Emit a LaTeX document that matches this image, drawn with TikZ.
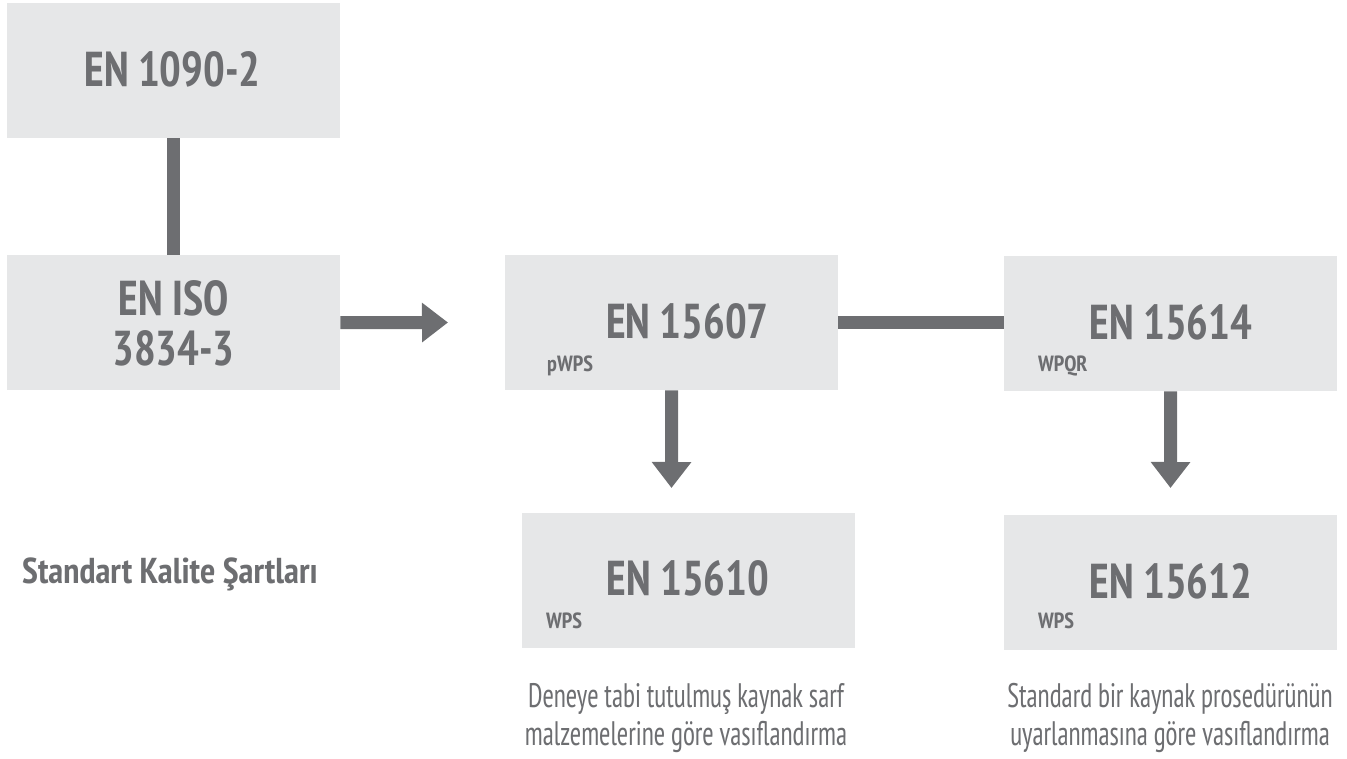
\documentclass[tikz,border=0pt]{standalone}
\usepackage{fontspec}
\setmainfont{PT Sans Narrow}
\newfontfamily\titlefont{PT Sans Narrow}[FakeStretch=0.93]
\newfontfamily\notefont{PT Sans Narrow}[FakeStretch=0.81]
\usetikzlibrary{arrows.meta}
\definecolor{boxgray}{HTML}{E6E7E8}
\definecolor{dark}{HTML}{6D6E71}
\begin{document}
\begin{tikzpicture}[x=1pt,y=-1pt,
  box/.style={fill=boxgray, draw=none, minimum width=333pt, minimum height=135pt, inner sep=0pt, anchor=north west},
  title/.style={text=dark, inner sep=0pt, anchor=base, font=\titlefont\bfseries\fontsize{49}{50}\selectfont},
  sub/.style={text=dark, inner sep=0pt, anchor=base west, font=\bfseries\fontsize{22}{24}\selectfont},
  side/.style={text=dark, inner sep=0pt, anchor=base west, font=\bfseries\fontsize{36}{38}\selectfont},
  note/.style={text=dark, inner sep=0pt, anchor=base, font=\notefont\fontsize{34}{38}\selectfont},
  conn/.style={draw=dark, line width=13pt},
  arr/.style={draw=dark, line width=13pt, -{Triangle[length=26pt,width=38pt]}}]
\useasboundingbox (0,0) rectangle (1347,758);
% boxes
\node[box] (A) at (7,3) {};
\node[box] (B) at (7,255) {};
\node[box] (C) at (505,255) {};
\node[box] (D) at (1004,256) {};
\node[box] (E) at (522,513) {};
\node[box] (F) at (1004,515) {};
% connectors
\draw[conn] (A.south) -- (B.north);
\coordinate (bEnd) at (448,322.5);
\draw[arr] (B.east) -- (bEnd);
\draw[conn] (C.east) -- (C.east -| D.west);
\coordinate (cEnd) at (671.5,488);
\draw[arr] (C.south) -- (cEnd);
\coordinate (dEnd) at (1170.5,488);
\draw[arr] (D.south) -- (dEnd);
% titles
\node[title] (tA) at (172.5,86) {EN 1090-2};
\node[title] (tB1) at (173.5,315) {EN ISO};
\node[title] (tB2) at (173.5,365) {3834-3};
\node[title] (tC) at (687.5,338) {EN 15607};
\node[sub] (sC) at (547,371) {pWPS};
\node[title] (tD) at (1171,339) {EN 15614};
\node[sub] (sD) at (1038,371) {WPQR};
\node[title] (tE) at (688,595) {EN 15610};
\node[sub] (sE) at (546,628) {WPS};
\node[title] (tF) at (1171,598) {EN 15612};
\node[sub] (sF) at (1038,628) {WPS};
% side label
\node[side] (std) at (22,583) {Standart Kalite Şartları};
% descriptions
\node[note] (dE1) at (686,707) {Deneye tabi tutulmuş kaynak sarf};
\node[note] (dE2) at (686,745) {malzemelerine göre vasıflandırma};
\node[note] (dF1) at (1170,707) {Standard bir kaynak prosedürünün};
\node[note] (dF2) at (1170,745) {uyarlanmasına göre vasıflandırma};
\end{tikzpicture}
\end{document}
